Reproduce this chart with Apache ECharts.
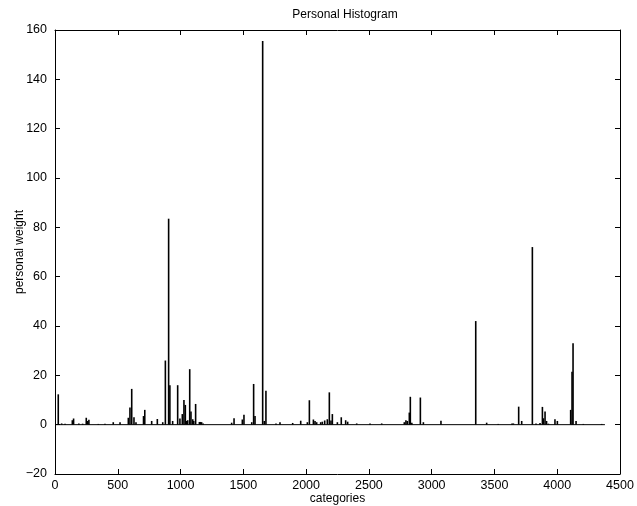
<!DOCTYPE html>
<html>
<head>
<meta charset="utf-8">
<script src="https://cdn.jsdelivr.net/npm/echarts@6/dist/echarts.min.js"></script>
<style>
  html, body { margin: 0; padding: 0; background: #fff; overflow: hidden; }
  #chart { width: 637px; height: 506px; }
</style>
</head>
<body>
<div id="chart"></div>
<script>
// category index of every non-empty bin
const categories = [
  26, 53, 80, 138, 148, 190, 220, 249, 260, 270, 345, 398, 464, 518,
  584, 597, 611, 629, 645, 705, 715, 770, 815, 858, 879, 905, 915, 937,
  977, 995, 1014, 1027, 1038, 1049, 1057, 1073, 1083, 1097, 1105, 1120,
  1150, 1160, 1168, 1180, 1407, 1426, 1492, 1505, 1567, 1582, 1593, 1654,
  1667, 1680, 1760, 1792, 1893, 1957, 2010, 2026, 2058, 2071, 2084, 2116,
  2129, 2148, 2169, 2185, 2198, 2209, 2249, 2280, 2315, 2331, 2403, 2509,
  2602, 2782, 2795, 2806, 2822, 2830, 2842, 2910, 2934, 3074, 3351, 3438,
  3530, 3640, 3651, 3693, 3717, 3802, 3831, 3863, 3882, 3890, 3903, 3915,
  3930, 3982, 4001, 4107, 4118, 4126, 4150, 4208, 4354
];
// personal weight for each category above
const weights = [
  12.3, 0.5, 0.4, 1.8, 2.5, 0.5, 0.4, 2.8, 1.5, 2.0, 0.3, 0.4, 1.0, 1.0,
  2.8, 7, 14.5, 3, 1, 3.5, 6, 1.5, 2.3, 1, 26, 83.5, 16, 1.5,
  16, 2.5, 4.3, 10, 8, 1.5, 1.8, 22.5, 5.3, 2.2, 1.5, 8.4,
  1.1, 1.1, 1, 0.5, 0.8, 2.6, 2.1, 4, 1, 16.5, 3.5, 155.5,
  1.5, 13.8, 0.5, 1, 0.7, 1.6, 1, 9.9, 2.1, 1.5, 1, 1,
  1.2, 1.7, 2.2, 13.1, 1.7, 4.3, 1, 3, 1.8, 1.2, 0.5, 0.5,
  0.5, 1, 1.8, 1.5, 4.9, 11.3, 0.8, 11, 1, 1.6, 42, 0.8,
  0.3, 0.5, 0.5, 7.3, 1.5, 72, 0.5, 0.7, 7.2, 2.6, 5.3, 1.5,
  0.4, 2.2, 1.5, 6, 21.5, 33, 1.5, 0.3, 0.3
];
const firstCategory = 1;
const lastCategory = 4380;

const xTicks = [0, 4500, 500];   // min, max, step
const yTicks = [-20, 160, 20];

const font = "'Liberation Sans', Arial, Helvetica, sans-serif";
const chart = echarts.init(document.getElementById('chart'), null,
  { renderer: 'canvas', width: 637, height: 506 });

const barData = categories.map((c, i) => [c, weights[i]]);

const tickLabel = v => String(v).replace('-', '\u2212');

const option = {
  animation: false,
  backgroundColor: '#fff',
  title: {
    text: 'Personal Histogram',
    left: 340, top: 4, textAlign: 'center',
    textStyle: { fontFamily: font, fontSize: 12, fontWeight: 'normal', color: '#000' }
  },
  grid: { left: 55, right: 17, top: 30, bottom: 32, containLabel: false, outerBoundsMode: 'none' },
  xAxis: [
    {
      type: 'value', min: xTicks[0], max: xTicks[1], interval: xTicks[2],
      position: 'bottom',
      name: 'categories', nameLocation: 'middle', nameGap: 19, nameMoveOverlap: false,
      nameTextStyle: { fontFamily: font, fontSize: 12, color: '#000' },
      axisLine: { show: true, onZero: false, lineStyle: { color: '#000', width: 1 } },
      axisTick: { show: true, inside: true, length: 5, lineStyle: { color: '#000' } },
      axisLabel: { fontFamily: font, fontSize: 12.5, color: '#000', margin: 5, formatter: tickLabel },
      splitLine: { show: false }
    },
    {
      type: 'value', min: xTicks[0], max: xTicks[1], interval: xTicks[2],
      position: 'top',
      axisLine: { show: true, onZero: false, lineStyle: { color: '#000', width: 1 } },
      axisTick: { show: true, inside: true, length: 5, lineStyle: { color: '#000' } },
      axisLabel: { show: false },
      splitLine: { show: false }
    }
  ],
  yAxis: [
    {
      type: 'value', min: yTicks[0], max: yTicks[1], interval: yTicks[2],
      position: 'left',
      name: 'personal weight', nameLocation: 'middle', nameGap: 29, nameRotate: 90, nameMoveOverlap: false,
      nameTextStyle: { fontFamily: font, fontSize: 12, color: '#000' },
      axisLine: { show: true, onZero: false, lineStyle: { color: '#000', width: 1 } },
      axisTick: { show: true, inside: true, length: 5, lineStyle: { color: '#000' } },
      axisLabel: { fontFamily: font, fontSize: 12.5, color: '#000', margin: 8, formatter: tickLabel },
      splitLine: { show: false }
    },
    {
      type: 'value', min: yTicks[0], max: yTicks[1], interval: yTicks[2],
      position: 'right',
      axisLine: { show: true, onZero: false, lineStyle: { color: '#000', width: 1 } },
      axisTick: { show: true, inside: true, length: 5, lineStyle: { color: '#000' } },
      axisLabel: { show: false },
      splitLine: { show: false }
    }
  ],
  series: [
    {
      name: 'baseline',
      type: 'line',
      xAxisIndex: 0, yAxisIndex: 0,
      data: [[firstCategory, 0], [lastCategory, 0]],
      symbol: 'none',
      lineStyle: { color: '#000', width: 1 },
      silent: true
    },
    {
      name: 'weight',
      type: 'bar',
      xAxisIndex: 0, yAxisIndex: 0,
      data: barData,
      barWidth: 1.6,
      itemStyle: { color: '#000' },
      silent: true
    }
  ]
};

chart.setOption(option);
</script>
</body>
</html>
